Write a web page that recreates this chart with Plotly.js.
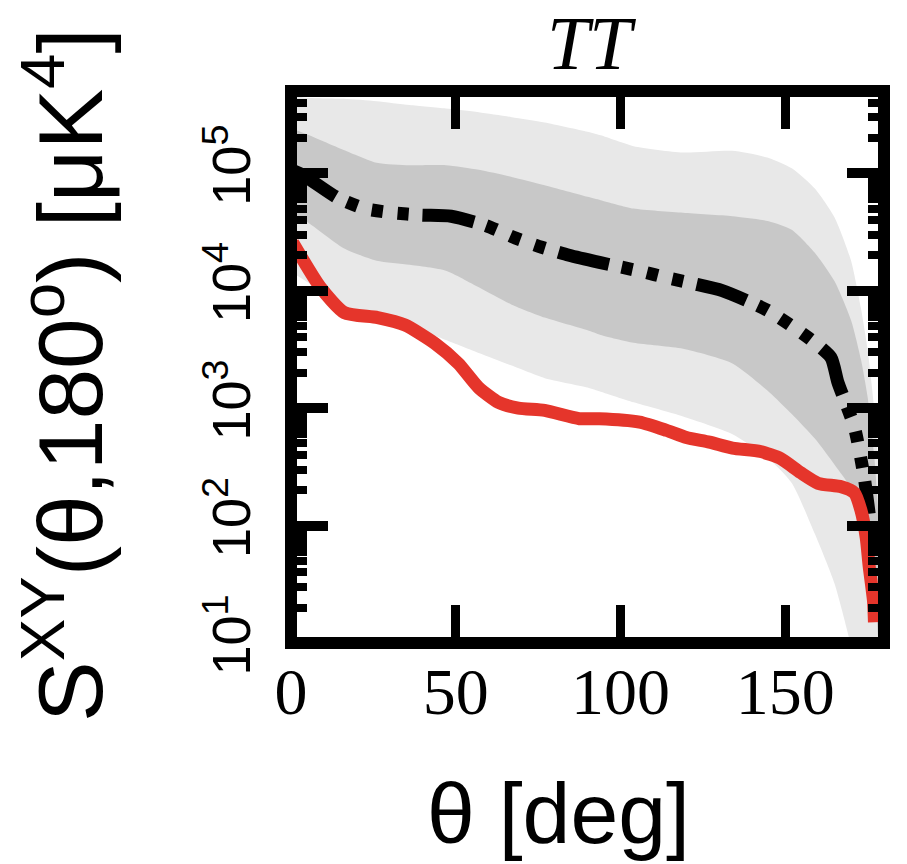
<!DOCTYPE html>
<html>
<head>
<meta charset="utf-8">
<script src="https://cdn.plot.ly/plotly-3.0.1.min.js"></script>
<style>html,body{margin:0;padding:0;background:#fff;}#chart{width:907px;height:864px;}</style>
</head>
<body>
<div id="chart"></div>
<script>
// ---- data (theta in degrees, S in muK^4) ----
const bandTheta = [0, 4, 16, 26, 36, 47, 57, 67, 77, 90, 94, 104, 119, 134, 145, 152, 159, 165, 170, 173, 175, 177, 179];
const outerUpper = [4.6e5, 4.4e5, 4.3e5, 4.1e5, 3.8e5, 3.55e5, 3.3e5, 3.0e5, 2.7e5, 2.25e5, 2.1e5, 1.7e5, 1.5e5, 1.55e5, 1.35e5, 1.1e5, 7.4e4, 4.2e4, 1.8e4, 7.1e3, 3.2e3, 1.0e3, 160];
const innerUpper = [2.4e5, 2.19e5, 1.58e5, 1.23e5, 1.17e5, 1.17e5, 1.07e5, 9.3e4, 7.9e4, 6.3e4, 5.9e4, 5.0e4, 4.6e4, 4.3e4, 3.9e4, 3.3e4, 2.1e4, 1.2e4, 5.6e3, 2.6e3, 1.26e3, 400, 63];
const innerLower = [4.4e4, 4.0e4, 2.3e4, 1.8e4, 1.66e4, 1.48e4, 1.07e4, 7.6e3, 5.9e3, 4.6e3, 4.2e3, 3.6e3, 3.2e3, 2.4e3, 1.38e3, 890, 550, 330, 210, 138, 89, 32, 5];
const outerLower = [1.45e4, 1.23e4, 7.2e3, 5.6e3, 5.0e3, 3.8e3, 2.95e3, 2.3e3, 1.8e3, 1.5e3, 1.38e3, 1.12e3, 850, 600, 370, 230, 85, 32, 9.5, 4, 2, 1, 0.25];

const meanTheta = [0, 4, 14, 22.3, 30.9, 39.4, 48.6, 59, 68.2, 76.1, 84.4, 93.6, 106.7, 114, 122, 130.9, 144.6, 156.9, 163.9, 166, 171, 174, 175.5];
const meanS = [1.07e5, 9.5e4, 6.2e4, 5.0e4, 4.6e4, 4.4e4, 4.3e4, 3.6e4, 2.8e4, 2.34e4, 2.0e4, 1.74e4, 1.45e4, 1.29e4, 1.15e4, 1.0e4, 6.8e3, 4.0e3, 2.7e3, 1.66e3, 690, 257, 126];

const dataTheta = [0.5, 8.9, 16.2, 26.3, 34.6, 43.7, 50.8, 56.9, 63, 69, 77, 87.5, 93.6, 105.8, 114, 120, 127, 134, 142.5, 148.6, 154.7, 160, 167, 171, 173, 174.6, 175.5, 176.8, 177.1];
const dataS = [2.57e4, 1.07e4, 6.5e3, 5.9e3, 5.1e3, 3.55e3, 2.4e3, 1.5e3, 1.12e3, 1.0e3, 955, 813, 813, 760, 646, 562, 513, 457, 427, 372, 282, 229, 214, 190, 135, 79, 45, 23, 15];

const xTickVals = [0, 50, 100, 150];
const xTickText = ['0', '50', '100', '150'];
const yTickVals = [1e1, 1e2, 1e3, 1e4, 1e5];
const yTickText = ['10<sup>1</sup>', '10<sup>2</sup>', '10<sup>3</sup>', '10<sup>4</sup>', '10<sup>5</sup>'];
const minorDigits = [2, 3, 4, 5, 6, 7, 8, 9];
const chartTitle = '<i>TT</i>';
const xTitle = 'θ [deg]';
const yTitle = 'S<sup>XY</sup>(θ,180<sup>o</sup>) [μK<sup>4</sup>]';

const yMinor = [];
yTickVals.forEach(d => minorDigits.forEach(m => yMinor.push(d * m)));

const colOuter = '#e8e8e8';
const colInner = '#c8c8c8';
const colRed = '#e5352b';

const traces = [
  {x: bandTheta, y: outerLower, mode: 'lines', line: {width: 0, shape: 'spline', smoothing: 0.6}, hoverinfo: 'skip', showlegend: false},
  {x: bandTheta, y: outerUpper, mode: 'lines', fill: 'tonexty', fillcolor: colOuter, line: {width: 0, shape: 'spline', smoothing: 0.6}, hoverinfo: 'skip', showlegend: false},
  {x: bandTheta, y: innerLower, mode: 'lines', line: {width: 0, shape: 'spline', smoothing: 0.6}, hoverinfo: 'skip', showlegend: false},
  {x: bandTheta, y: innerUpper, mode: 'lines', fill: 'tonexty', fillcolor: colInner, line: {width: 0, shape: 'spline', smoothing: 0.6}, hoverinfo: 'skip', showlegend: false},
  {x: meanTheta, y: meanS, mode: 'lines', line: {color: '#000', width: 13, shape: 'spline', smoothing: 0.6, dash: '52px,13px,11px,15px,11px,15px,11px,14px'}, showlegend: false},
  {x: dataTheta, y: dataS, mode: 'lines', line: {color: colRed, width: 13, shape: 'spline', smoothing: 0.6}, showlegend: false}
];

const layout = {
  width: 907, height: 864,
  margin: {l: 291, r: 23, t: 91, b: 221, pad: 0},
  paper_bgcolor: '#fff', plot_bgcolor: '#fff',
  showlegend: false,
  xaxis: {
    range: [0, 180], tickmode: 'array', tickvals: xTickVals, ticktext: xTickText,
    ticks: 'inside', ticklen: 38, tickwidth: 9, tickcolor: '#000',
    showline: true, linewidth: 12, linecolor: 'rgba(0,0,0,0)', mirror: 'allticks',
    showgrid: false, zeroline: false, ticklabelstandoff: -20,
    tickfont: {family: 'Liberation Serif', size: 66, color: '#000'}
  },
  yaxis: {
    type: 'log', range: [1, 5.7], tickmode: 'array', tickvals: yTickVals, ticktext: yTickText,
    tickangle: -90,
    ticks: 'inside', ticklen: 37, tickwidth: 10, tickcolor: '#000',
    minor: {tickmode: 'array', tickvals: yMinor, ticks: 'inside', ticklen: 16, tickwidth: 8, tickcolor: '#000', showgrid: false},
    showline: true, linewidth: 12, linecolor: 'rgba(0,0,0,0)', mirror: 'allticks',
    showgrid: false, zeroline: false, ticklabelstandoff: 7,
    tickfont: {family: 'Liberation Sans', size: 54, color: '#000'}
  },
  shapes: [
    {type: 'rect', xref: 'paper', yref: 'paper', x0: 0, x1: 1, y0: 0, y1: 1, line: {color: '#000', width: 12}, fillcolor: 'rgba(0,0,0,0)', layer: 'above'}
  ],
  annotations: [
    {text: chartTitle, xref: 'paper', yref: 'paper', x: (591 - 291) / 593, y: 643 / 552, xanchor: 'center', yanchor: 'top', borderpad: 0, showarrow: false, font: {family: 'Liberation Serif', size: 76, color: '#000'}},
    {text: xTitle, xref: 'paper', yref: 'paper', x: (558 - 291) / 593, y: -0.3986, xanchor: 'center', yanchor: 'bottom', showarrow: false, font: {family: 'Liberation Sans', size: 86, color: '#000'}},
    {text: yTitle, textangle: -90, xref: 'paper', yref: 'paper', x: (63 - 291) / 593, y: 0.4855, xanchor: 'center', yanchor: 'middle', showarrow: false, font: {family: 'Liberation Sans', size: 91, color: '#000'}}
  ]
};

Plotly.newPlot('chart', traces, layout, {displayModeBar: false, staticPlot: true});
</script>
</body>
</html>
